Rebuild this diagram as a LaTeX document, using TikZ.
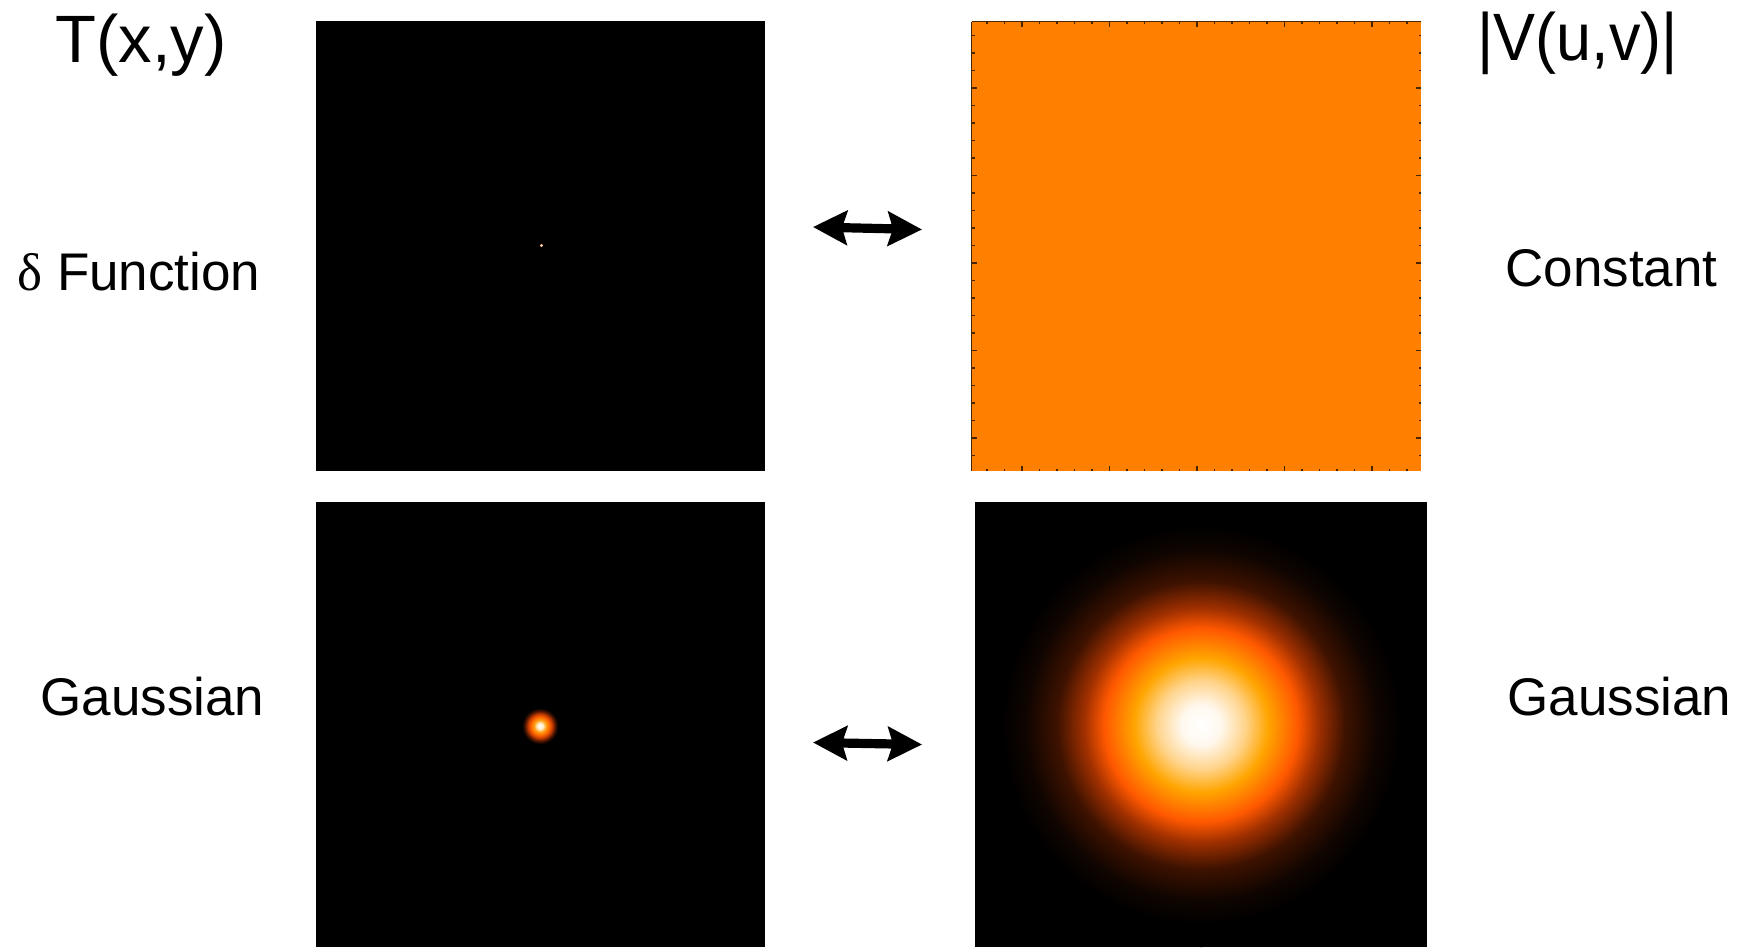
\documentclass[tikz,border=0pt]{standalone}
\usepackage{fontspec}
\setmainfont{Liberation Sans}
\newfontfamily\greekfont{Liberation Serif}
\usepackage{xcolor}
\usepackage{tikz}
\usetikzlibrary{arrows.meta,shadings}
\definecolor{plotOrange}{HTML}{FF8000}
\definecolor{tickBrown}{HTML}{4A2600}
\definecolor{spikeCol}{RGB}{255,205,160}
%% colour ramp of the wide (Fourier side) Gaussian
\definecolor{wgB}{RGB}{255,248,238}
\definecolor{wgC}{RGB}{255,212,140}
\definecolor{wgD}{RGB}{255,165,0}
\definecolor{wgE}{RGB}{255,88,0}
\definecolor{wgF}{RGB}{160,48,0}
\definecolor{wgG}{RGB}{62,18,0}
\definecolor{wgH}{RGB}{16,5,0}
%% colour ramp of the narrow (image side) Gaussian
\definecolor{ngB}{RGB}{255,235,200}
\definecolor{ngC}{RGB}{255,160,20}
\definecolor{ngD}{RGB}{255,105,0}
\definecolor{ngE}{RGB}{200,60,0}
\definecolor{ngF}{RGB}{80,22,0}
\pgfdeclareradialshading{wideGauss}{\pgfpointorigin}{color(0bp)=(white); color(2.25bp)=(wgB);
  color(4.95bp)=(wgC); color(7.55bp)=(wgD); color(10.9bp)=(wgE); color(13.2bp)=(wgF);
  color(16.2bp)=(wgG); color(19.7bp)=(wgH); color(22.5bp)=(black); color(50bp)=(black)}
\pgfdeclareradialshading{narrowGauss}{\pgfpointorigin}{color(0bp)=(white); color(3.75bp)=(ngB);
  color(7.5bp)=(ngC); color(11.25bp)=(ngD); color(15bp)=(ngE); color(18.75bp)=(ngF);
  color(22.5bp)=(black); color(50bp)=(black)}

\begin{document}
\begin{tikzpicture}[
    x=0.5pt,y=-0.5pt,
    every node/.style={inner sep=0pt},
    head/.style={font=\fontsize{33.5pt}{40pt}\selectfont,anchor=base west},
    lab/.style={font=\fontsize{26.5pt}{32pt}\selectfont,anchor=base west},
    panel/.style={fill=black,minimum width=224.5pt,minimum height=224.5pt},
    dualArr/.style={{Stealth[length=17pt,width=17pt,inset=2.5pt]}-{Stealth[length=17pt,width=17pt,inset=2.5pt]},
                    line width=4.6pt,black},
    tick/.style={tickBrown,line width=0.6pt}
  ]
  \useasboundingbox (0,0) rectangle (1738,947);
  %% Column headings
  \node[head] (thead) at (55,63)   {T(x,y)};
  \node[head,xscale=0.94] (vhead) at (1477,61) {|V(u,v)|};
  %% Top row: delta function <-> constant
  \node[lab] (deltaLab) at (17,290)   {{\greekfont δ} Function};
  \node[lab] (constLab) at (1505,286) {Constant};
  \node[panel] (deltaImg) at (540.5,246) {};
  \fill[spikeCol] (541.5,245.5) circle [radius=1.6];
  \node[panel,fill=plotOrange] (constImg) at (1196.5,246.5) {};
  \draw[tick] (constImg.north west) -- (constImg.north east);
  \draw[tick] (constImg.north west) -- (constImg.south west);
  \foreach \k in {0,...,24}{
    \pgfmathsetmacro{\tx}{mod(\k+3,5)==0 ? 5 : 2.5}
    \pgfmathsetmacro{\ty}{mod(\k+2,5)==0 ? 5 : 2.5}
    \draw[tick] ({987+17.5*\k},22) -- ++(0,\tx);
    \draw[tick] ({987+17.5*\k},471) -- ++(0,-\tx);
    \draw[tick] (972,{35.5+17.5*\k}) -- ++(\ty,0);
    \draw[tick] (1421,{35.5+17.5*\k}) -- ++(-\ty,0);
  }
  \coordinate (topL) at (813,227);
  \coordinate (topR) at (922,229.5);
  \draw[dualArr] (topL) -- (topR);
  %% Bottom row: narrow Gaussian <-> wide Gaussian
  \node[lab] (gaussLabL) at (40,715)   {Gaussian};
  \node[lab] (gaussLabR) at (1507,715) {Gaussian};
  \node[panel,minimum height=222.5pt] (gaussImg) at (540.5,724.5) {};
  \shade[shading=narrowGauss] (540,726) circle [radius=20];
  \node[panel,minimum width=226pt,minimum height=222.5pt] (wideImg) at (1201,724.5) {};
  \shade[shading=wideGauss] (1201,725) circle [radius=222];
  \coordinate (botL) at (813,742.5);
  \coordinate (botR) at (922,744.5);
  \draw[dualArr] (botL) -- (botR);
\end{tikzpicture}
\end{document}
